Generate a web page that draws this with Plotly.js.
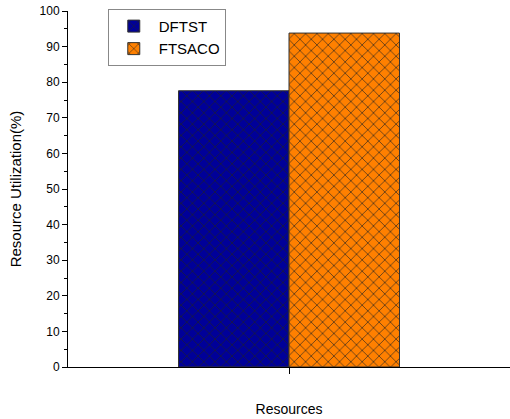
<!DOCTYPE html>
<html>
<head>
<meta charset="utf-8">
<script src="https://cdn.plot.ly/plotly-3.0.1.min.js"></script>
<style>html,body{margin:0;padding:0;background:#fff;}#chart{width:510px;height:419px;}</style>
</head>
<body>
<div id="chart"></div>
<script>
// Resource utilization per scheduling method
const categories = ['Resources'];
const seriesNames = ['DFTST', 'FTSACO'];
const dftstValues = [77.6];
const ftsacoValues = [93.8];
const yTicks = [0, 10, 20, 30, 40, 50, 60, 70, 80, 90, 100];

const colors = ['#000099', '#FF8000'];
const values = [dftstValues, ftsacoValues];

const traces = seriesNames.map((name, i) => ({
  type: 'bar',
  name: name,
  x: categories,
  y: values[i],
  marker: {
    color: colors[i],
    line: {color: '#333333', width: 1},
    pattern: {shape: 'x', fgcolor: '#222222', bgcolor: colors[i], size: 8, solidity: 0.15}
  }
}));

const layout = {
  width: 510, height: 419,
  margin: {l: 68, r: 0, t: 11, b: 52},
  paper_bgcolor: '#ffffff', plot_bgcolor: '#ffffff',
  font: {family: 'Liberation Sans, Arial, sans-serif', color: '#000000', size: 12},
  barmode: 'group',
  bargap: 0.5,
  bargroupgap: 0,
  showlegend: true,
  legend: {
    x: 0.09, y: 1.006, xanchor: 'left', yanchor: 'top',
    bgcolor: '#ffffff', bordercolor: '#888888', borderwidth: 1,
    font: {size: 15}, tracegroupgap: 0, itemwidth: 40
  },
  xaxis: {
    type: 'category',
    range: [-0.5, 0.5],
    tickvals: categories, ticktext: [''],
    ticks: 'outside', ticklen: 6, tickwidth: 1, tickcolor: '#000',
    showline: true, linecolor: '#000', linewidth: 1,
    showgrid: false, zeroline: false,
    title: {text: 'Resources', font: {size: 14}, standoff: 28}
  },
  yaxis: {
    range: [0, 100],
    tickvals: yTicks,
    ticks: 'outside', ticklen: 5, tickwidth: 1, tickcolor: '#000',
    minor: {dtick: 5, ticks: 'outside', ticklen: 3, tickcolor: '#000', showgrid: false},
    showline: true, linecolor: '#000', linewidth: 1,
    showgrid: false, zeroline: false,
    tickfont: {size: 12},
    title: {text: 'Resource Utilization(%)', font: {size: 15}, standoff: 14}
  }
};

Plotly.newPlot('chart', traces, layout, {displayModeBar: false, staticPlot: true});
</script>
</body>
</html>
